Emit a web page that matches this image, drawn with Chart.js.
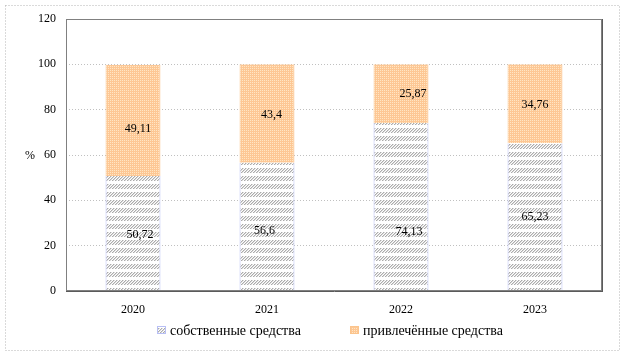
<!DOCTYPE html>
<html>
<head>
<meta charset="utf-8">
<script src="https://cdn.jsdelivr.net/npm/chart.js@4/dist/chart.umd.min.js"></script>
<style>
html,body{margin:0;padding:0;background:#fff;}
canvas{display:block;}
</style>
</head>
<body>
<canvas id="c" width="623" height="358"></canvas>
<script>
const years = ['2020', '2021', '2022', '2023'];
const ownFunds = [50.72, 56.6, 74.13, 65.23];
const borrowedFunds = [49.11, 43.4, 25.87, 34.76];
const seriesNames = ['собственные средства', 'привлечённые средства'];
const yTicks = [0, 20, 40, 60, 80, 100, 120];
const yUnit = '%';

const FONT = "'Liberation Serif', 'Times New Roman', serif";

function makePattern(w, h, draw) {
  const c = document.createElement('canvas');
  c.width = w; c.height = h;
  const x = c.getContext('2d');
  draw(x);
  return x.createPattern(c, 'repeat');
}
const hatch = makePattern(3, 8, (x) => {
  x.fillStyle = '#ffffff'; x.fillRect(0, 0, 3, 8);
  for (let y = 0; y < 5; y++) {
    const px = (20 - y) % 3;
    x.fillStyle = '#ababab';
    x.fillRect(px, y, 1, 1);
    x.fillStyle = '#dcdcdc';
    x.fillRect((px + 1) % 3, y, 1, 1);
  }
});
const dots = makePattern(2, 2, (x) => {
  x.fillStyle = '#fdc794'; x.fillRect(0, 0, 2, 2);
  x.fillStyle = '#ffe6c4'; x.fillRect(0, 0, 1, 1);
});

const labelShift = [
  [[7, 1.5], [-2.5, 4], [8, 25], [0, 0]],
  [[5, 8], [4.5, 1.5], [12, 0], [0, 1]]
];

const decor = {
  id: 'decor',
  afterDatasetsDraw(chart) {
    const ctx = chart.ctx;
    const a = chart.chartArea;
    ctx.save();
    ctx.strokeStyle = '#808080';
    ctx.lineWidth = 1;
    ctx.strokeRect(Math.round(a.left) + 0.5, Math.round(a.top) + 0.5,
      Math.round(a.right - a.left) - 1, Math.round(a.bottom - a.top) - 1);
    ctx.strokeStyle = '#5a5a5a';
    ctx.beginPath();
    ctx.moveTo(Math.round(a.right) + 0.5, Math.round(a.top));
    ctx.lineTo(Math.round(a.right) + 0.5, Math.round(a.bottom) + 1);
    ctx.moveTo(Math.round(a.left), Math.round(a.bottom) + 0.5);
    ctx.lineTo(Math.round(a.right) + 1, Math.round(a.bottom) + 0.5);
    ctx.stroke();

    ctx.font = '12px ' + FONT;
    ctx.fillStyle = '#000';
    ctx.textAlign = 'center';
    ctx.textBaseline = 'middle';
    chart.data.datasets.forEach((ds, di) => {
      const meta = chart.getDatasetMeta(di);
      meta.data.forEach((el, i) => {
        const cy = (el.y + el.base) / 2;
        const sh = labelShift[di][i];
        ctx.fillText(String(ds.data[i]).replace('.', ','), el.x + sh[0], cy + sh[1]);
      });
    });
    ctx.restore();
  },
  afterDraw(chart) {
    const ctx = chart.ctx;
    ctx.save();
    ctx.strokeStyle = '#b4b4b4';
    ctx.lineWidth = 1;
    ctx.setLineDash([1, 2]);
    ctx.strokeRect(5.5, 5.5, 614, 345);
    ctx.setLineDash([]);
    ctx.font = '12px ' + FONT;
    ctx.fillStyle = '#000';
    ctx.textAlign = 'center';
    ctx.textBaseline = 'middle';
    ctx.fillText(yUnit, 30, 156);
    const items = [
      { x: 157, ds: chart.data.datasets[0] },
      { x: 350, ds: chart.data.datasets[1] }
    ];
    ctx.font = '14px ' + FONT;
    ctx.textAlign = 'left';
    items.forEach((it) => {
      ctx.fillStyle = it.ds.backgroundColor;
      ctx.fillRect(it.x, 326, 9, 8);
      ctx.strokeStyle = it.ds.borderColor;
      ctx.strokeRect(it.x + 0.5, 326.5, 8, 7);
      ctx.fillStyle = '#000';
      ctx.fillText(it.ds.label, it.x + 13, 331);
    });
    ctx.restore();
  }
};

new Chart(document.getElementById('c'), {
  type: 'bar',
  data: {
    labels: years,
    datasets: [
      {
        label: seriesNames[0],
        data: ownFunds,
        backgroundColor: hatch,
        borderColor: '#b8bff5',
        borderWidth: { left: 1, right: 1, top: 0, bottom: 0 },
        borderSkipped: false
      },
      {
        label: seriesNames[1],
        data: borrowedFunds,
        backgroundColor: dots,
        borderColor: '#fbc48c',
        borderWidth: { left: 1, right: 1, top: 0, bottom: 0 },
        borderSkipped: false
      }
    ]
  },
  options: {
    responsive: false,
    devicePixelRatio: 1,
    animation: false,
    layout: { padding: { left: 0, right: 21, top: 19, bottom: 37 } },
    plugins: { legend: { display: false }, tooltip: { enabled: false } },
    datasets: { bar: { barPercentage: 0.41, categoryPercentage: 1 } },
    scales: {
      x: {
        stacked: true,
        grid: { display: false },
        border: { display: false },
        ticks: { color: '#000', font: { family: FONT, size: 12 }, padding: 4 },
        afterFit(s) { s.height = 30; }
      },
      y: {
        stacked: true,
        min: 0,
        max: 120,
        afterBuildTicks(s) { s.ticks = yTicks.map(v => ({ value: v })); },
        grid: { color: '#c0c0c0', drawTicks: false },
        border: { display: false, dash: [1, 2] },
        ticks: { color: '#000', font: { family: FONT, size: 12 }, padding: 10 },
        afterFit(s) { s.width = 66; }
      }
    }
  },
  plugins: [decor]
});
</script>
</body>
</html>
